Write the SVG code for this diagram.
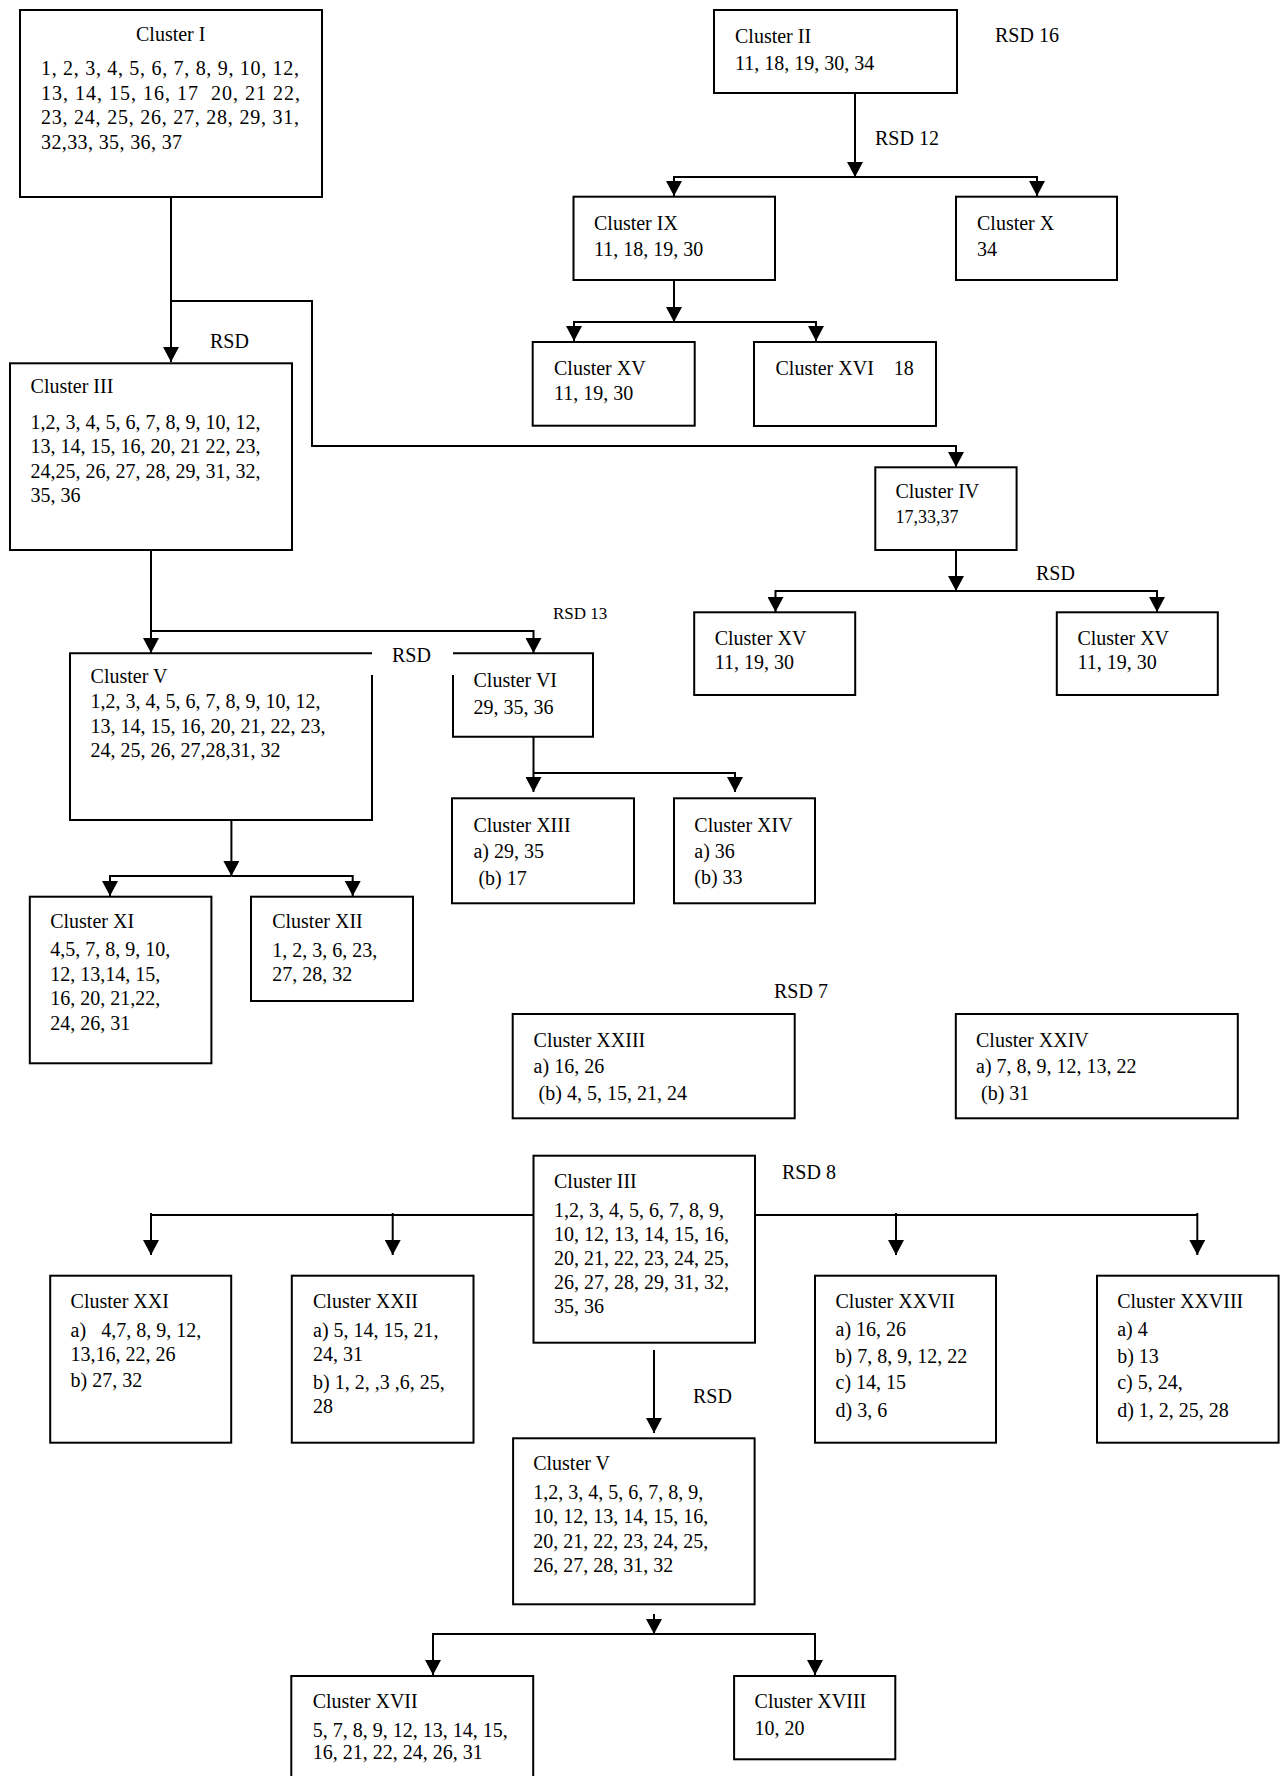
<svg xmlns="http://www.w3.org/2000/svg" width="1284" height="1776" viewBox="0 0 1284 1776">
<style>
text{font-family:"Liberation Serif","Times New Roman",serif;font-size:20px;fill:#000;white-space:pre}
.box{fill:none;stroke:#000;stroke-width:2}
.c{fill:none;stroke:#000;stroke-width:2}
.a{marker-end:url(#ah)}
.sm{font-size:17px}
.n18{font-size:18px}
</style>
<defs>
<marker id="ah" viewBox="0 0 15 16" refX="15" refY="8" markerWidth="15" markerHeight="16" markerUnits="userSpaceOnUse" orient="auto">
<path d="M0,0 L15,8 L0,16 z" fill="#000"/>
</marker>
</defs>
<rect width="1284" height="1776" fill="#fff"/>

<g id="connectors">
<path class="c a" d="M171,197 V362"/>
<path class="c a" d="M171,301 H312 V446 H956 V467"/>
<path class="c a" d="M855,93 V177"/>
<path class="c a" d="M855,177 H674 V196"/>
<path class="c a" d="M855,177 H1037 V196"/>
<path class="c a" d="M674,280 V322"/>
<path class="c a" d="M674,322 H574 V341"/>
<path class="c a" d="M674,322 H816 V341"/>
<path class="c a" d="M151,550 V653"/>
<path class="c a" d="M151,631 H533.5 V653"/>
<path class="c a" d="M956,550 V591"/>
<path class="c a" d="M956,591 H775.5 V612"/>
<path class="c a" d="M956,591 H1157 V612"/>
<path class="c a" d="M533.5,737 V792"/>
<path class="c a" d="M533.5,773 H735 V792"/>
<path class="c a" d="M231.4,820 V876"/>
<path class="c a" d="M231.4,876 H110 V896"/>
<path class="c a" d="M231.4,876 H352.7 V896"/>
<path class="c" d="M533.5,1215 H151"/>
<path class="c a" d="M151,1213 V1255"/>
<path class="c a" d="M392.7,1213 V1255"/>
<path class="c" d="M755,1215 H1197.3"/>
<path class="c a" d="M896,1213 V1255"/>
<path class="c a" d="M1197.3,1213 V1255"/>
<path class="c a" d="M654,1350 V1433"/>
<path class="c a" d="M654,1614 V1634"/>
<path class="c a" d="M654,1634 H433 V1675"/>
<path class="c a" d="M654,1634 H815 V1675"/>
</g>

<g id="labels">
<text x="995" y="42">RSD 16</text>
<text x="875" y="145">RSD 12</text>
<text x="210" y="348">RSD</text>
<text x="1036" y="580">RSD</text>
<text class="sm" x="553" y="619">RSD 13</text>
<text x="392" y="662">RSD</text>
<text x="774" y="998">RSD 7</text>
<text x="782" y="1179">RSD 8</text>
<text x="693" y="1403">RSD</text>
</g>

<g id="cluster-I">
<rect class="box" x="20" y="10" width="302" height="187"/>
<text x="136" y="41">Cluster I</text>
<text x="41" y="75" textLength="258" lengthAdjust="spacing">1, 2, 3, 4, 5, 6, 7, 8, 9, 10, 12,</text>
<text x="41" y="100" textLength="259" lengthAdjust="spacing">13, 14, 15, 16, 17  20, 21 22,</text>
<text x="41" y="124" textLength="258" lengthAdjust="spacing">23, 24, 25, 26, 27, 28, 29, 31,</text>
<text x="41" y="149" textLength="141" lengthAdjust="spacing">32,33, 35, 36, 37</text>
</g>

<g id="cluster-II">
<rect class="box" x="714" y="10" width="243" height="83"/>
<text x="735" y="43">Cluster II</text>
<text x="735" y="70">11, 18, 19, 30, 34</text>
</g>

<g id="cluster-IX">
<rect class="box" x="573.5" y="196.7" width="201.5" height="83.3"/>
<text x="594" y="230">Cluster IX</text>
<text x="594" y="256">11, 18, 19, 30</text>
</g>

<g id="cluster-X">
<rect class="box" x="956" y="196.7" width="161" height="83.3"/>
<text x="977" y="230">Cluster X</text>
<text x="977" y="256">34</text>
</g>

<g id="cluster-XV-a">
<rect class="box" x="532.7" y="342" width="162" height="83.7"/>
<text x="554" y="375">Cluster XV</text>
<text x="554" y="400">11, 19, 30</text>
</g>

<g id="cluster-XVI">
<rect class="box" x="754" y="342" width="182" height="84"/>
<text x="775.5" y="375">Cluster XVI    18</text>
</g>

<g id="cluster-III-a">
<rect class="box" x="10" y="363.3" width="282" height="186.7"/>
<text x="30.6" y="393.3">Cluster III</text>
<text x="30.6" y="429.3">1,2, 3, 4, 5, 6, 7, 8, 9, 10, 12,</text>
<text x="30.6" y="453.3">13, 14, 15, 16, 20, 21 22, 23,</text>
<text x="30.6" y="477.7">24,25, 26, 27, 28, 29, 31, 32,</text>
<text x="30.6" y="501.7">35, 36</text>
</g>

<g id="cluster-IV">
<rect class="box" x="875.3" y="467.3" width="141.3" height="82.7"/>
<text x="895.4" y="498.3">Cluster IV</text>
<text class="n18" x="895.4" y="523.3">17,33,37</text>
</g>

<g id="cluster-XV-b">
<rect class="box" x="694.2" y="612.3" width="161" height="82.7"/>
<text x="714.7" y="645">Cluster XV</text>
<text x="714.7" y="669.3">11, 19, 30</text>
</g>

<g id="cluster-XV-c">
<rect class="box" x="1056.8" y="612.3" width="161" height="82.7"/>
<text x="1077.4" y="645">Cluster XV</text>
<text x="1077.4" y="669.3">11, 19, 30</text>
</g>

<g id="cluster-V-a">
<path class="box" d="M372,675 V820 H70 V653.3 H372"/>
<text x="90.6" y="683.3">Cluster V</text>
<text x="90.6" y="708.3">1,2, 3, 4, 5, 6, 7, 8, 9, 10, 12,</text>
<text x="90.6" y="732.7">13, 14, 15, 16, 20, 21, 22, 23,</text>
<text x="90.6" y="756.7">24, 25, 26, 27,28,31, 32</text>
</g>

<g id="cluster-VI">
<path class="box" d="M453,675 V736.7 H593 V653.3 H453"/>
<text x="473.5" y="686.7">Cluster VI</text>
<text x="473.5" y="714">29, 35, 36</text>
</g>

<g id="cluster-XIII">
<rect class="box" x="452" y="798.3" width="182" height="105"/>
<text x="473.4" y="831.7">Cluster XIII</text>
<text x="473.4" y="858.3">a) 29, 35</text>
<text x="473.4" y="885"> (b) 17</text>
</g>

<g id="cluster-XIV">
<rect class="box" x="674" y="798.3" width="141" height="105"/>
<text x="694.3" y="831.7">Cluster XIV</text>
<text x="694.3" y="858.3">a) 36</text>
<text x="694.3" y="884.3">(b) 33</text>
</g>

<g id="cluster-XI">
<rect class="box" x="29.8" y="896.7" width="181.6" height="166.6"/>
<text x="50.2" y="928.3">Cluster XI</text>
<text x="50.2" y="956">4,5, 7, 8, 9, 10,</text>
<text x="50.2" y="980.7">12, 13,14, 15,</text>
<text x="50.2" y="1005">16, 20, 21,22,</text>
<text x="50.2" y="1030">24, 26, 31</text>
</g>

<g id="cluster-XII">
<rect class="box" x="251" y="896.7" width="162" height="104.3"/>
<text x="272.2" y="928.3">Cluster XII</text>
<text x="272.2" y="956.7">1, 2, 3, 6, 23,</text>
<text x="272.2" y="980.7">27, 28, 32</text>
</g>

<g id="cluster-XXIII">
<rect class="box" x="512.7" y="1014" width="282" height="104.3"/>
<text x="533.6" y="1046.7">Cluster XXIII</text>
<text x="533.6" y="1073.3">a) 16, 26</text>
<text x="533.6" y="1100"> (b) 4, 5, 15, 21, 24</text>
</g>

<g id="cluster-XXIV">
<rect class="box" x="955.8" y="1014" width="282" height="104.3"/>
<text x="976" y="1046.7">Cluster XXIV</text>
<text x="976" y="1073.3">a) 7, 8, 9, 12, 13, 22</text>
<text x="976" y="1100"> (b) 31</text>
</g>

<g id="cluster-III-b">
<rect class="box" x="533.5" y="1155.7" width="221.5" height="187"/>
<text x="554" y="1188.3">Cluster III</text>
<text x="554" y="1216.7">1,2, 3, 4, 5, 6, 7, 8, 9,</text>
<text x="554" y="1241">10, 12, 13, 14, 15, 16,</text>
<text x="554" y="1265">20, 21, 22, 23, 24, 25,</text>
<text x="554" y="1289.3">26, 27, 28, 29, 31, 32,</text>
<text x="554" y="1313.3">35, 36</text>
</g>

<g id="cluster-XXI">
<rect class="box" x="50.2" y="1275.7" width="181" height="167"/>
<text x="70.6" y="1308.3">Cluster XXI</text>
<text x="70.6" y="1336.7">a)   4,7, 8, 9, 12,</text>
<text x="70.6" y="1360.7">13,16, 22, 26</text>
<text x="70.6" y="1386.7">b) 27, 32</text>
</g>

<g id="cluster-XXII">
<rect class="box" x="291.8" y="1275.7" width="181.7" height="167"/>
<text x="313" y="1308.3">Cluster XXII</text>
<text x="313" y="1336.7">a) 5, 14, 15, 21,</text>
<text x="313" y="1360.7">24, 31</text>
<text x="313" y="1389.3">b) 1, 2, ,3 ,6, 25,</text>
<text x="313" y="1413.3">28</text>
</g>

<g id="cluster-XXVII">
<rect class="box" x="815" y="1275.7" width="181" height="167"/>
<text x="835.5" y="1308.3">Cluster XXVII</text>
<text x="835.5" y="1336">a) 16, 26</text>
<text x="835.5" y="1363.3">b) 7, 8, 9, 12, 22</text>
<text x="835.5" y="1389.3">c) 14, 15</text>
<text x="835.5" y="1416.7">d) 3, 6</text>
</g>

<g id="cluster-XXVIII">
<rect class="box" x="1097" y="1275.7" width="181.6" height="167"/>
<text x="1117.2" y="1308.3">Cluster XXVIII</text>
<text x="1117.2" y="1336">a) 4</text>
<text x="1117.2" y="1363.3">b) 13</text>
<text x="1117.2" y="1389.3">c) 5, 24,</text>
<text x="1117.2" y="1416.7">d) 1, 2, 25, 28</text>
</g>

<g id="cluster-V-b">
<rect class="box" x="513.1" y="1438.3" width="241.5" height="166"/>
<text x="533.2" y="1470">Cluster V</text>
<text x="533.2" y="1499.3">1,2, 3, 4, 5, 6, 7, 8, 9,</text>
<text x="533.2" y="1523.3">10, 12, 13, 14, 15, 16,</text>
<text x="533.2" y="1547.7">20, 21, 22, 23, 24, 25,</text>
<text x="533.2" y="1571.7">26, 27, 28, 31, 32</text>
</g>

<g id="cluster-XVII">
<rect class="box" x="291.3" y="1676" width="241.9" height="110"/>
<text x="312.7" y="1708.3">Cluster XVII</text>
<text x="312.7" y="1736.7">5, 7, 8, 9, 12, 13, 14, 15,</text>
<text x="312.7" y="1759.3">16, 21, 22, 24, 26, 31</text>
</g>

<g id="cluster-XVIII">
<rect class="box" x="734.1" y="1676" width="161.2" height="83.3"/>
<text x="754.6" y="1708.3">Cluster XVIII</text>
<text x="754.6" y="1735">10, 20</text>
</g>
</svg>
